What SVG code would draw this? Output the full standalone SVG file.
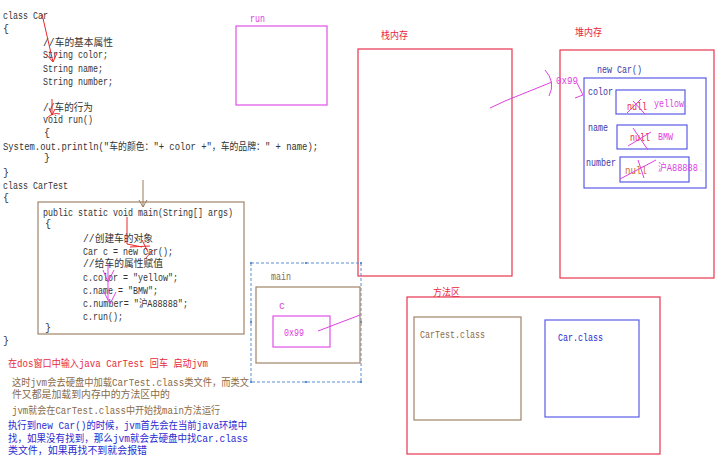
<svg xmlns="http://www.w3.org/2000/svg" width="718" height="461" viewBox="0 0 718 461">
<style>
text{font-family:"Liberation Mono","Noto Sans CJK SC",monospace;font-size:10px}
.code{fill:#333}
.red{fill:#e8283c}
.brn{fill:#8a6a48}
.blu{fill:#2a2ad0}
.dblu{fill:#3a3aa8}
.mag{fill:#e040e0}
.box{fill:none;stroke-width:1.2}
.rbox{stroke:#e8344e}
.bbox{stroke:#5a5ae6}
.brbox{stroke:#a08468}
.mbox{stroke:#e050e8}
.ln{fill:none;stroke-width:1}
.lr{stroke:#e82828}
.lm{stroke:#e040e0}
.lb{stroke:#9a7a5a}
</style>
<rect width="718" height="461" fill="#fff"/>

<g id="code-car">
<text class="code" x="3" y="19" textLength="45" lengthAdjust="spacingAndGlyphs">class Car</text>
<text class="code" x="3" y="32">{</text>
<text class="code" x="43" y="46" textLength="70" lengthAdjust="spacingAndGlyphs">//车的基本属性</text>
<text class="code" x="43" y="58" textLength="65" lengthAdjust="spacingAndGlyphs">String color;</text>
<text class="code" x="43" y="72" textLength="60" lengthAdjust="spacingAndGlyphs">String name;</text>
<text class="code" x="43" y="85" textLength="70" lengthAdjust="spacingAndGlyphs">String number;</text>
<text class="code" x="43" y="111" textLength="50" lengthAdjust="spacingAndGlyphs">//车的行为</text>
<text class="code" x="43" y="123" textLength="50" lengthAdjust="spacingAndGlyphs">void run()</text>
<text class="code" x="44" y="136">{</text>
<text class="code" x="3" y="150" textLength="315" lengthAdjust="spacingAndGlyphs">System.out.println("车的颜色："+ color +"，车的品牌：" + name);</text>
<text class="code" x="44" y="161">}</text>
<text class="code" x="3" y="176">}</text>
</g>

<g id="code-cartest">
<text class="code" x="3" y="189" textLength="65" lengthAdjust="spacingAndGlyphs">class CarTest</text>
<text class="code" x="3" y="201">{</text>
<text class="code" x="3" y="344">}</text>
</g>

<g id="main-method">
<rect class="box brbox" x="38" y="202" width="206" height="132"/>
<text class="code" x="43" y="216" textLength="190" lengthAdjust="spacingAndGlyphs">public static void main(String[] args)</text>
<text class="code" x="45" y="227">{</text>
<text class="code" x="83" y="242" textLength="70" lengthAdjust="spacingAndGlyphs">//创建车的对象</text>
<text class="code" x="83" y="255" textLength="90" lengthAdjust="spacingAndGlyphs">Car c = new Car();</text>
<text class="code" x="83" y="267" textLength="80" lengthAdjust="spacingAndGlyphs">//给车的属性赋值</text>
<text class="code" x="83" y="281" textLength="95" lengthAdjust="spacingAndGlyphs">c.color = "yellow";</text>
<text class="code" x="83" y="294" textLength="75" lengthAdjust="spacingAndGlyphs">c.name = "BMW";</text>
<text class="code" x="83" y="307" textLength="105" lengthAdjust="spacingAndGlyphs">c.number= "沪A88888";</text>
<text class="code" x="83" y="320" textLength="40" lengthAdjust="spacingAndGlyphs">c.run();</text>
<text class="code" x="45" y="331">}</text>
</g>

<g id="notes">
<text class="red" x="8" y="367" textLength="200" lengthAdjust="spacingAndGlyphs">在dos窗口中输入java CarTest 回车 启动jvm</text>
<text class="brn" x="12" y="386" textLength="237" lengthAdjust="spacingAndGlyphs">这时jvm会去硬盘中加载CarTest.class类文件，而类文</text>
<text class="brn" x="12" y="398" textLength="158" lengthAdjust="spacingAndGlyphs">件又都是加载到内存中的方法区中的</text>
<text class="brn" x="12" y="414" textLength="208" lengthAdjust="spacingAndGlyphs">jvm就会在CarTest.class中开始找main方法运行</text>
<text class="blu" x="8" y="429" textLength="239" lengthAdjust="spacingAndGlyphs">执行到new Car()的时候，jvm首先会在当前java环境中</text>
<text class="blu" x="8" y="442" textLength="240" lengthAdjust="spacingAndGlyphs">找，如果没有找到，那么jvm就会去硬盘中找Car.class</text>
<text class="blu" x="8" y="454" textLength="139" lengthAdjust="spacingAndGlyphs">类文件，如果再找不到就会报错</text>
</g>

<g id="run-frame">
<text class="mag" x="250" y="22" textLength="15" lengthAdjust="spacingAndGlyphs">run</text>
<rect class="box mbox" x="236" y="26" width="91" height="79"/>
</g>

<g id="stack">
<text class="red" x="381" y="39" textLength="27" lengthAdjust="spacingAndGlyphs">栈内存</text>
<rect class="box rbox" x="358" y="49" width="154" height="227"/>
</g>

<g id="main-frame">
<rect x="251" y="263" width="110" height="119" fill="none" stroke="#5b8fd0" stroke-width="1" stroke-dasharray="3,2"/>
<g fill="#5b8fd0">
<rect x="250" y="262" width="2" height="2"/><rect x="305" y="262" width="2" height="2"/><rect x="360" y="262" width="2" height="2"/>
<rect x="250" y="321" width="2" height="2"/><rect x="360" y="321" width="2" height="2"/>
<rect x="250" y="381" width="2" height="2"/><rect x="305" y="381" width="2" height="2"/><rect x="360" y="381" width="2" height="2"/>
</g>
<text class="brn" x="271" y="280" textLength="20" lengthAdjust="spacingAndGlyphs">main</text>
<rect class="box brbox" x="256" y="287" width="104" height="76"/>
<text class="mag" x="279" y="309">c</text>
<rect class="box mbox" x="273" y="316" width="57" height="31"/>
<text class="mag" x="284" y="336" textLength="20" lengthAdjust="spacingAndGlyphs">0x99</text>
</g>

<g id="heap">
<text class="red" x="575" y="36" textLength="27" lengthAdjust="spacingAndGlyphs">堆内存</text>
<rect class="box rbox" x="560" y="50" width="154" height="228"/>
<text class="mag" x="556" y="84" textLength="22" lengthAdjust="spacingAndGlyphs">0x99</text>
<text class="dblu" x="597" y="73" textLength="45" lengthAdjust="spacingAndGlyphs">new Car()</text>
</g>

<g id="car-object">
<rect class="box bbox" x="584" y="78" width="122" height="110"/>
<text class="dblu" x="588" y="95" textLength="25" lengthAdjust="spacingAndGlyphs">color</text>
<rect class="box bbox" x="616" y="90" width="69" height="24"/>
<text class="red" x="627" y="110" textLength="20" lengthAdjust="spacingAndGlyphs">null</text>
<text class="mag" x="654" y="107" textLength="30" lengthAdjust="spacingAndGlyphs">yellow</text>
<text class="dblu" x="588" y="131" textLength="20" lengthAdjust="spacingAndGlyphs">name</text>
<rect class="box bbox" x="617" y="125" width="70" height="24"/>
<text class="red" x="630" y="141" textLength="20" lengthAdjust="spacingAndGlyphs">null</text>
<text class="mag" x="658" y="140" textLength="15" lengthAdjust="spacingAndGlyphs">BMW</text>
<text class="dblu" x="586" y="166" textLength="30" lengthAdjust="spacingAndGlyphs">number</text>
<rect class="box bbox" x="620" y="157" width="69" height="25"/>
<text x="625" y="174" fill="#d07030" textLength="22" lengthAdjust="spacingAndGlyphs">null</text>
<text class="mag" x="658" y="171" textLength="40" lengthAdjust="spacingAndGlyphs">沪A88888</text>
</g>

<g id="method-area">
<text class="red" x="433" y="296" textLength="27" lengthAdjust="spacingAndGlyphs">方法区</text>
<rect class="box rbox" x="407" y="297" width="253" height="157"/>
</g>

<g id="cartest-class">
<rect class="box brbox" x="414" y="317" width="107" height="103"/>
<text class="brn" x="420" y="338" textLength="65" lengthAdjust="spacingAndGlyphs">CarTest.class</text>
</g>

<g id="car-class">
<rect class="box bbox" x="545" y="320" width="94" height="97"/>
<text class="blu" x="558" y="341" textLength="45" lengthAdjust="spacingAndGlyphs">Car.class</text>
</g>

<g id="connectors">
<path class="ln lr" d="M42,14 L53,62 M46,54 L53,62 L57,53"/>
<path class="ln lr" d="M52,99 L52,115 M49,108 L52,115 L55,109 M47,118 Q53,112 60,114"/>
<path class="ln lb" d="M143,180 L143,207 M139,200 L143,207 L147,200"/>
<path class="ln lr" d="M127,217 L127,244 L142,247 M142,240 L148,252 M145,259 L153,250 M130,247 L150,246"/>
<path class="ln lm" d="M108,264 L108,300 M103,270 L108,282 L114,270 M103,290 L110,304 L116,292"/>
<path class="ln lm" d="M318,331 L360,315"/>
<path class="ln lm" d="M490,108 L505,101 L552,82 M545,70 Q556,82 549,96"/>
<path class="ln lm" d="M577,83 L583,95 M575,98 L583,95"/>
<path class="ln lm" d="M627,113 L641,99 M633,101 L645,114"/>
<path class="ln lm" d="M633,128 L648,150 M628,146 L651,132"/>
<path class="ln lm" d="M620,179 L656,160 M638,160 L644,178"/>
</g>
</svg>
